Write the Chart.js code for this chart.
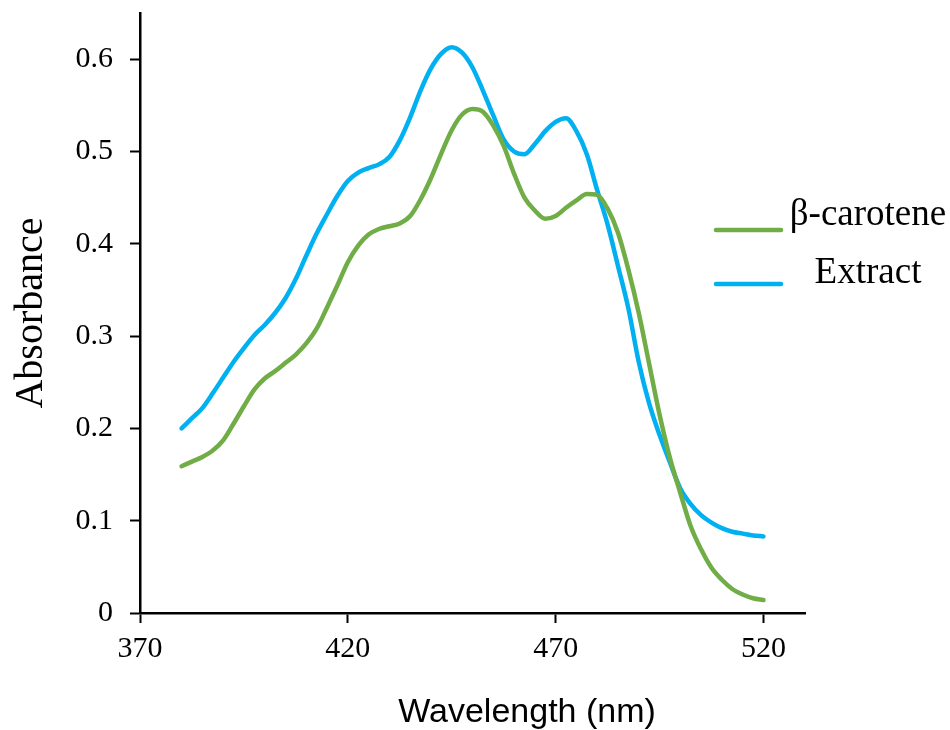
<!DOCTYPE html>
<html>
<head>
<meta charset="utf-8">
<script src="https://cdn.jsdelivr.net/npm/chart.js@4.4.0/dist/chart.umd.min.js"></script>
<style>
  html, body { margin: 0; padding: 0; background: #fff; }
  #wrap { width: 950px; height: 730px; position: relative; }
</style>
</head>
<body>
<div id="wrap"><canvas id="spectrumChart"></canvas></div>
<script>
// Longitudes de onda (nm), cada 2.5 nm
const wavelengths = [
  380, 382.5, 385, 387.5, 390, 392.5, 395, 397.5, 400, 402.5,
  405, 407.5, 410, 412.5, 415, 417.5, 420, 422.5, 425, 427.5,
  430, 432.5, 435, 437.5, 440, 442.5, 445, 447.5, 450, 452.5,
  455, 457.5, 460, 462.5, 465, 467.5, 470, 472.5, 475, 477.5,
  480, 482.5, 485, 487.5, 490, 492.5, 495, 497.5, 500, 502.5,
  505, 507.5, 510, 512.5, 515, 517.5, 520
];

// Absorbancia del beta-caroteno
const caroteneValues = [
  0.159, 0.164, 0.169, 0.176, 0.187, 0.205, 0.224, 0.242, 0.254, 0.262,
  0.271, 0.280, 0.292, 0.308, 0.331, 0.355, 0.380, 0.398, 0.410, 0.416,
  0.419, 0.422, 0.430, 0.448, 0.471, 0.498, 0.523, 0.540, 0.546, 0.543,
  0.528, 0.506, 0.476, 0.450, 0.436, 0.427, 0.430, 0.439, 0.447, 0.454,
  0.453, 0.438, 0.412, 0.372, 0.325, 0.270, 0.215, 0.168, 0.130, 0.094,
  0.069, 0.049, 0.036, 0.026, 0.020, 0.016, 0.014
];

// Absorbancia del extracto
const extractValues = [
  0.200, 0.211, 0.222, 0.238, 0.255, 0.272, 0.287, 0.301, 0.312, 0.325,
  0.341, 0.362, 0.387, 0.411, 0.432, 0.452, 0.468, 0.477, 0.482, 0.486,
  0.494, 0.512, 0.537, 0.566, 0.590, 0.606, 0.613, 0.607, 0.591, 0.566,
  0.539, 0.513, 0.500, 0.497, 0.508, 0.522, 0.532, 0.536, 0.522, 0.497,
  0.458, 0.421, 0.376, 0.330, 0.272, 0.227, 0.193, 0.163, 0.135, 0.118,
  0.106, 0.098, 0.092, 0.088, 0.086, 0.084, 0.083
];

const seriesNames = ['\u03B2-carotene', 'Extract'];
const seriesColors = ['#70AD47', '#00B0F0'];

const xTicks = [370, 420, 470, 520];
const yTicks = [0, 0.1, 0.2, 0.3, 0.4, 0.5, 0.6];

const serif = "'Liberation Serif', 'Times New Roman', serif";

// Titulos de ejes y leyenda dibujados a mano
const extrasPlugin = {
  id: 'extras',
  afterDraw(chart) {
    const c = chart.ctx;
    c.save();
    c.fillStyle = '#000';

    // Titulo eje Y
    c.font = '40px ' + serif;
    c.textAlign = 'center';
    c.textBaseline = 'alphabetic';
    c.save();
    c.translate(42, 313);
    c.rotate(-Math.PI / 2);
    c.fillText('Absorbance', 0, 0);
    c.restore();

    // Titulo eje X
    c.font = "34px 'Liberation Sans', Arial, sans-serif";
    c.fillText('Wavelength (nm)', 527, 722);

    // Leyenda
    const rows = [
      { lineY: 230, textY: 225 },
      { lineY: 284, textY: 283 }
    ];
    c.font = '37px ' + serif;
    chart.data.datasets.forEach((ds, i) => {
      c.strokeStyle = ds.borderColor;
      c.lineWidth = 4.5;
      c.lineCap = 'round';
      c.beginPath();
      c.moveTo(716, rows[i].lineY);
      c.lineTo(781, rows[i].lineY);
      c.stroke();
      c.fillText(ds.label, 868, rows[i].textY);
    });
    c.restore();
  }
};

const ctx = document.getElementById('spectrumChart').getContext('2d');
const spectrumChart = new Chart(ctx, {
  type: 'line',
  data: {
    datasets: [
      {
        label: seriesNames[0],
        data: wavelengths.map((w, i) => ({ x: w, y: caroteneValues[i] })),
        borderColor: seriesColors[0],
        borderWidth: 4.5,
        borderCapStyle: 'round',
        borderJoinStyle: 'round',
        pointRadius: 0,
        cubicInterpolationMode: 'monotone',
        fill: false
      },
      {
        label: seriesNames[1],
        data: wavelengths.map((w, i) => ({ x: w, y: extractValues[i] })),
        borderColor: seriesColors[1],
        borderWidth: 4.5,
        borderCapStyle: 'round',
        borderJoinStyle: 'round',
        pointRadius: 0,
        cubicInterpolationMode: 'monotone',
        fill: false
      }
    ]
  },
  options: {
    responsive: true,
    maintainAspectRatio: false,
    animation: false,
    layout: { padding: { top: 13, right: 145, left: 0, bottom: 0 } },
    plugins: {
      legend: { display: false },
      tooltip: { enabled: false }
    },
    scales: {
      x: {
        type: 'linear',
        min: 370,
        max: 530,
        afterBuildTicks: s => { s.ticks = xTicks.map(v => ({ value: v })); },
        afterFit: s => { s.height = 117; s.paddingLeft = 0; s.paddingRight = 0; },
        ticks: {
          color: '#000',
          font: { family: serif, size: 30 },
          padding: 8,
          maxRotation: 0,
          callback: v => String(v)
        },
        grid: {
          drawOnChartArea: false,
          drawTicks: true,
          tickLength: 10,
          tickColor: '#000',
          tickWidth: 2
        },
        border: { color: '#000', width: 2.5 }
      },
      y: {
        type: 'linear',
        min: 0,
        max: 0.65,
        afterBuildTicks: s => { s.ticks = yTicks.map(v => ({ value: v })); },
        afterFit: s => { s.width = 140; s.paddingTop = 0; s.paddingBottom = 0; },
        ticks: {
          color: '#000',
          font: { family: serif, size: 30 },
          padding: 17,
          callback: v => String(+v.toFixed(1))
        },
        grid: {
          drawOnChartArea: false,
          drawTicks: true,
          tickLength: 10,
          tickColor: '#000',
          tickWidth: 2
        },
        border: { color: '#000', width: 2.5 }
      }
    }
  },
  plugins: [extrasPlugin]
});
</script>
</body>
</html>
